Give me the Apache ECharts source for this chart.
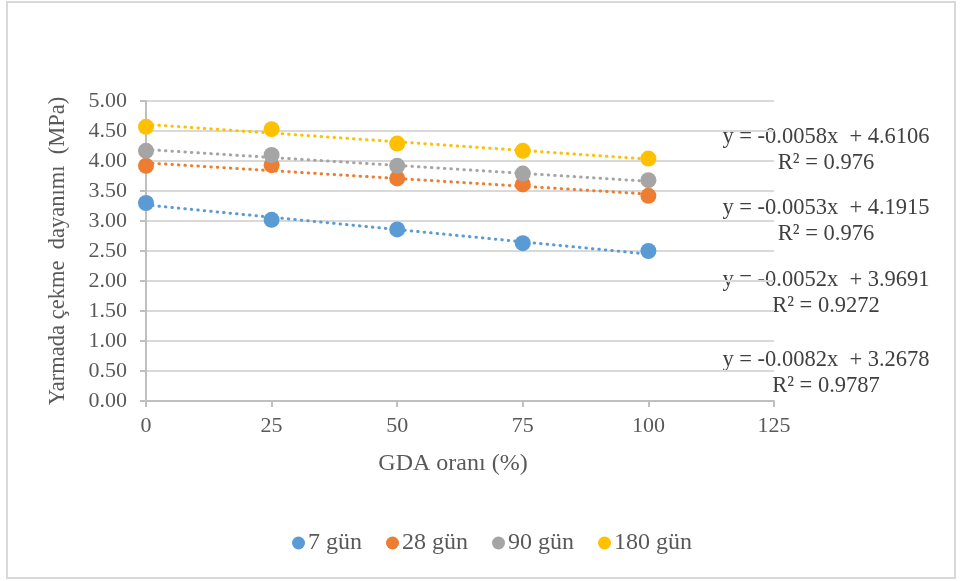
<!DOCTYPE html>
<html>
<head>
<meta charset="utf-8">
<script src="https://cdn.jsdelivr.net/npm/echarts@6/dist/echarts.min.js"></script>
<style>
  html, body { margin: 0; padding: 0; background: #ffffff; }
  #chart { width: 962px; height: 581px; }
</style>
</head>
<body>
<div id="chart"></div>
<script>
// GDA ratio (%) on the x axis
const gdaRatio = [0, 25, 50, 75, 100];

// Splitting tensile strength (MPa) per curing age
const seriesNames = ['7 gün', '28 gün', '90 gün', '180 gün'];
const strength7 = [3.30, 3.02, 2.86, 2.63, 2.50];
const strength28 = [3.92, 3.93, 3.71, 3.61, 3.42];
const strength90 = [4.17, 4.10, 3.92, 3.79, 3.68];
const strength180 = [4.57, 4.53, 4.29, 4.17, 4.04];

// Linear trendline coefficients and fit quality
const trendSlope = [-0.0082, -0.0052, -0.0053, -0.0058];
const trendIntercept = [3.2678, 3.9691, 4.1915, 4.6106];
const trendR2 = ['0.9787', '0.9272', '0.976', '0.976'];

// Tick values of the axes
const xTicks = [0, 25, 50, 75, 100, 125];
const yTicks = [0, 0.5, 1, 1.5, 2, 2.5, 3, 3.5, 4, 4.5, 5];

const colors = ['#5B9BD5', '#ED7D31', '#A5A5A5', '#FFC000'];
const allValues = [strength7, strength28, strength90, strength180];
const serif = '"Liberation Serif", "Times New Roman", serif';

const chart = echarts.init(document.getElementById('chart'));

const series = [];
allValues.forEach((vals, i) => {
  const x0 = gdaRatio[0], x1 = gdaRatio[gdaRatio.length - 1];
  series.push({
    name: seriesNames[i] + ' trend',
    type: 'line',
    data: [[x0, trendIntercept[i] + trendSlope[i] * x0], [x1, trendIntercept[i] + trendSlope[i] * x1]],
    symbol: 'none',
    z: 2,
    silent: true,
    lineStyle: { color: colors[i], width: 3, type: [0.5, 6], cap: 'round' }
  });
});
allValues.forEach((vals, i) => {
  series.push({
    name: seriesNames[i],
    type: 'scatter',
    data: gdaRatio.map((x, j) => [x, vals[j]]),
    symbol: 'circle',
    symbolSize: 16,
    z: 5,
    itemStyle: { color: colors[i], opacity: 1 }
  });
});

// Trendline equations, listed top to bottom as they appear beside the plot
const eqOrder = [3, 2, 1, 0];
const eqY = [137, 208, 280, 360];
const graphics = [{
  type: 'rect',
  shape: { x: 7, y: 2, width: 948, height: 576 },
  style: { fill: 'none', stroke: '#d9d9d9', lineWidth: 2 },
  silent: true
}];
eqOrder.forEach((k, r) => {
  const eq = 'y = ' + trendSlope[k].toFixed(4) + 'x  + ' + trendIntercept[k].toFixed(4);
  graphics.push({
    type: 'text', x: 826, y: eqY[r],
    style: { text: eq, font: '22.5px ' + serif, fill: '#404040', textAlign: 'center', textVerticalAlign: 'middle' }
  });
  graphics.push({
    type: 'text', x: 826, y: eqY[r] + 26,
    style: { text: 'R² = ' + trendR2[k], font: '22.5px ' + serif, fill: '#404040', textAlign: 'center', textVerticalAlign: 'middle' }
  });
});

chart.setOption({
  animation: false,
  backgroundColor: '#ffffff',
  color: colors,
  grid: { left: 146, right: 188, top: 101, bottom: 180, containLabel: false },
  xAxis: {
    type: 'value',
    min: xTicks[0],
    max: xTicks[xTicks.length - 1],
    interval: xTicks[1] - xTicks[0],
    name: 'GDA oranı (%)',
    nameLocation: 'middle',
    nameGap: 51,
    nameTextStyle: { fontFamily: serif, fontSize: 24, color: '#595959', padding: [0, 14, 0, 0] },
    axisLine: { lineStyle: { color: '#bfbfbf', width: 2 } },
    axisTick: { show: true, length: 6, lineStyle: { color: '#bfbfbf', width: 2 } },
    axisLabel: { fontFamily: serif, fontSize: 22, color: '#595959', margin: 14 },
    splitLine: { show: false }
  },
  yAxis: {
    type: 'value',
    min: yTicks[0],
    max: yTicks[yTicks.length - 1],
    interval: yTicks[1] - yTicks[0],
    name: 'Yarmada çekme  dayanımı  (MPa)',
    nameLocation: 'middle',
    nameGap: 76,
    nameTextStyle: { fontFamily: serif, fontSize: 22.5, color: '#595959' },
    axisLine: { show: true, lineStyle: { color: '#bfbfbf', width: 2 } },
    axisTick: { show: true, length: 6, lineStyle: { color: '#bfbfbf', width: 2 } },
    axisLabel: { fontFamily: serif, fontSize: 22, color: '#595959', margin: 19, formatter: v => v.toFixed(2) },
    splitLine: { show: true, lineStyle: { color: '#d9d9d9', width: 2 } }
  },
  legend: {
    data: seriesNames,
    bottom: 21,
    left: 287,
    icon: 'circle',
    itemWidth: 13,
    itemHeight: 13,
    itemGap: 24,
    textStyle: { fontFamily: serif, fontSize: 24, color: '#595959', padding: [0, 0, 0, -2] }
  },
  graphic: graphics,
  series: series
});
</script>
</body>
</html>
